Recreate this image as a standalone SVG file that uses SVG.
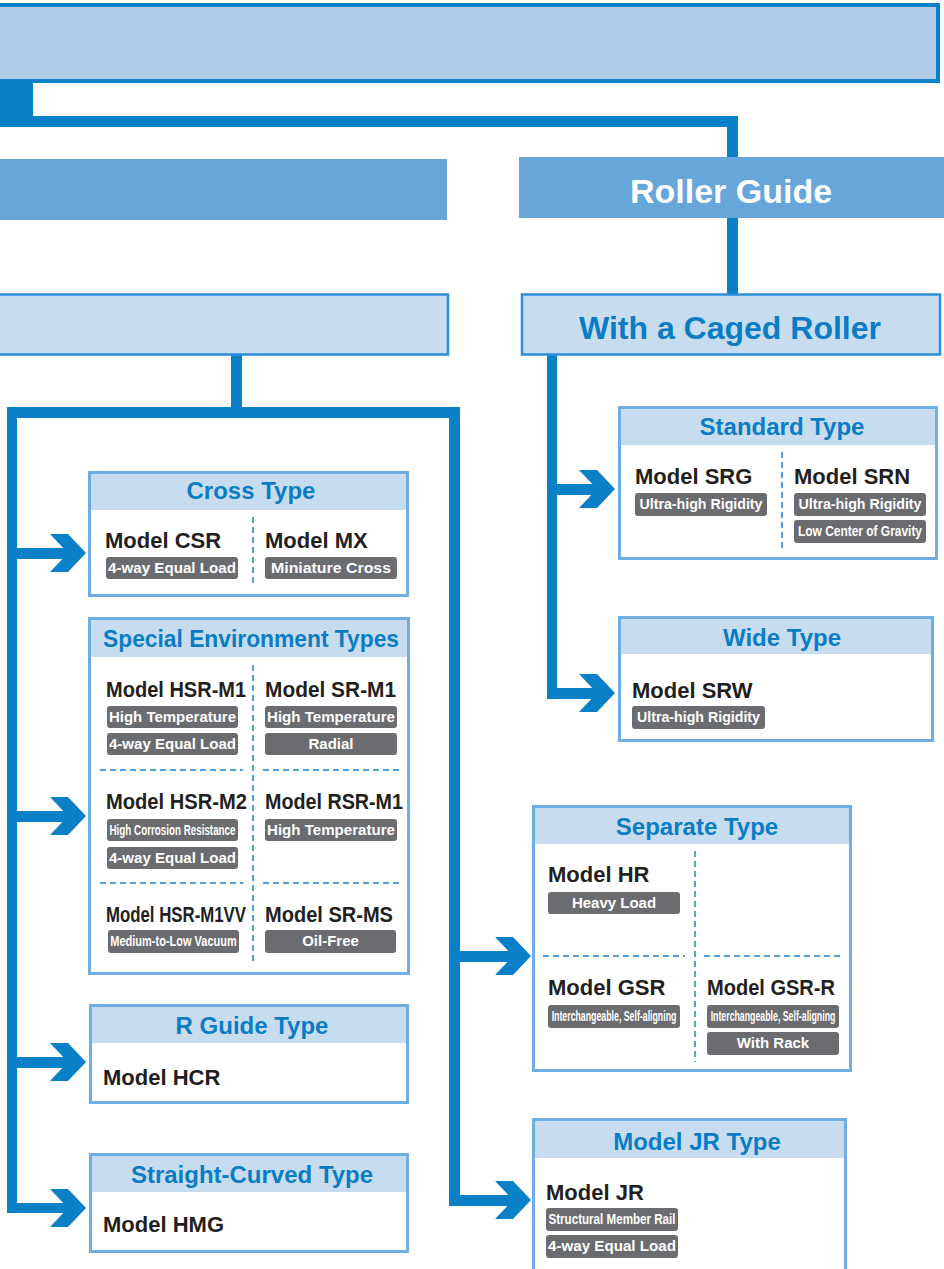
<svg xmlns="http://www.w3.org/2000/svg" xmlns:xlink="http://www.w3.org/1999/xlink" width="944" height="1269" viewBox="0 0 944 1269">
<style>
text{font-family:"Liberation Sans",Arial,Helvetica,sans-serif;font-weight:bold}
.c{fill:#0a80c8}
.top{fill:#b0cce9;stroke:#0a80c8;stroke-width:4}
.l2{fill:#66a6da}
.l3{fill:#c8dcf0;stroke:#2a8fd6;stroke-width:2.5}
.card{fill:#fff;stroke:#6eaee2;stroke-width:3}
.hd{fill:#c8dcf0}
.title{font-size:24px;fill:#0a7cc4;text-anchor:middle}
.big{text-anchor:middle}
.model{font-size:22px;fill:#231f20}
.badge{fill:#6b6c6f}
.bt{font-size:15px;fill:#fff;text-anchor:middle}
.nt{font-size:14px;fill:#fff;text-anchor:middle}
.dash{stroke:#4fa0dc;stroke-width:2;stroke-dasharray:6 4;fill:none}
</style>
<defs>
<path id="chev" d="M-36,-19 L-18,-19 L0,0 L-18,19 L-36,19 L-18,0 Z"/>
</defs>

<g id="connectors">
<rect class="c" x="0" y="81" width="33" height="46"/>
<rect class="c" x="0" y="116" width="738" height="11"/>
<rect class="c" x="727" y="116" width="11" height="42"/>
<rect class="c" x="727" y="217" width="11" height="77"/>
<rect class="c" x="231" y="354" width="11" height="56"/>
<rect class="c" x="7" y="407" width="453" height="11"/>
<rect class="c" x="7" y="407" width="10" height="806"/>
<rect class="c" x="449" y="407" width="11" height="799"/>
<rect class="c" x="547" y="354" width="10" height="345"/>
<rect class="c" x="17" y="548" width="52" height="11"/>
<rect class="c" x="17" y="811" width="52" height="11"/>
<rect class="c" x="17" y="1057" width="52" height="11"/>
<rect class="c" x="7" y="1203" width="62" height="10"/>
<rect class="c" x="460" y="951" width="54" height="11"/>
<rect class="c" x="449" y="1195" width="65" height="11"/>
<rect class="c" x="557" y="484" width="41" height="11"/>
<rect class="c" x="547" y="688" width="51" height="11"/>
<use xlink:href="#chev" class="c" transform="translate(86,553)"/>
<use xlink:href="#chev" class="c" transform="translate(86,816)"/>
<use xlink:href="#chev" class="c" transform="translate(86,1062)"/>
<use xlink:href="#chev" class="c" transform="translate(86,1208)"/>
<use xlink:href="#chev" class="c" transform="translate(531,956)"/>
<use xlink:href="#chev" class="c" transform="translate(531,1200)"/>
<use xlink:href="#chev" class="c" transform="translate(615,489)"/>
<use xlink:href="#chev" class="c" transform="translate(615,693)"/>
</g>

<g id="top-box"><rect class="top" x="-10" y="5" width="948" height="76"/></g>
<g id="left-level2"><rect class="l2" x="-5" y="159" width="452" height="61"/></g>
<g id="roller-guide"><rect class="l2" x="519" y="157" width="425" height="61"/>
<text class="big" x="731" y="203" style="font-size:34px;fill:#fff">Roller Guide</text></g>
<g id="left-level3"><rect class="l3" x="-5" y="294.5" width="453" height="60"/></g>
<g id="caged-roller"><rect class="l3" x="522" y="294.5" width="418" height="60"/>
<text class="big" x="730" y="339" style="font-size:32px;fill:#0a7cc4">With a Caged Roller</text></g>

<g id="cross-type">
<rect class="card" x="89.5" y="472.5" width="318" height="123"/>
<rect class="hd" x="91" y="474" width="315" height="36"/>
<text class="title" x="251" y="499">Cross Type</text>
<line class="dash" x1="253" y1="517" x2="253" y2="586"/>
<text class="model" x="105" y="548">Model CSR</text>
<rect class="badge" x="106" y="557" width="132" height="22" rx="3"/>
<text class="bt" x="172" y="573" textLength="128" lengthAdjust="spacingAndGlyphs">4-way Equal Load</text>
<text class="model" x="265" y="548">Model MX</text>
<rect class="badge" x="265" y="557" width="132" height="22" rx="3"/>
<text class="bt" x="331" y="573" textLength="120" lengthAdjust="spacingAndGlyphs">Miniature Cross</text>
</g>

<g id="special-env">
<rect class="card" x="89.5" y="618.5" width="319" height="355"/>
<rect class="hd" x="91" y="620" width="316" height="37"/>
<text class="title" x="251" y="647" textLength="296" lengthAdjust="spacingAndGlyphs">Special Environment Types</text>
<line class="dash" x1="253" y1="665" x2="253" y2="965"/>
<line class="dash" x1="100" y1="770" x2="243" y2="770"/>
<line class="dash" x1="263" y1="770" x2="402" y2="770"/>
<line class="dash" x1="100" y1="883" x2="243" y2="883"/>
<line class="dash" x1="263" y1="883" x2="402" y2="883"/>
<text class="model" transform="translate(106,697) scale(0.91,1)" textLength="154" lengthAdjust="spacingAndGlyphs">Model HSR-M1</text>
<rect class="badge" x="107" y="706" width="131" height="22" rx="3"/>
<text class="bt" x="172.5" y="722" textLength="127" lengthAdjust="spacingAndGlyphs">High Temperature</text>
<rect class="badge" x="107" y="733" width="131" height="22" rx="3"/>
<text class="bt" x="172.5" y="749" textLength="127" lengthAdjust="spacingAndGlyphs">4-way Equal Load</text>
<text class="model" transform="translate(265,697) scale(0.95,1)" textLength="138" lengthAdjust="spacingAndGlyphs">Model SR-M1</text>
<rect class="badge" x="265" y="706" width="132" height="22" rx="3"/>
<text class="bt" x="331" y="722" textLength="128" lengthAdjust="spacingAndGlyphs">High Temperature</text>
<rect class="badge" x="265" y="733" width="132" height="22" rx="3"/>
<text class="bt" x="331" y="749">Radial</text>
<text class="model" transform="translate(106,809) scale(0.915,1)" textLength="154" lengthAdjust="spacingAndGlyphs">Model HSR-M2</text>
<rect class="badge" x="107" y="819" width="131" height="22" rx="3"/>
<text class="nt" transform="translate(172.5,835) scale(0.7,1)" textLength="180" lengthAdjust="spacingAndGlyphs">High Corrosion Resistance</text>
<rect class="badge" x="107" y="847" width="131" height="22" rx="3"/>
<text class="bt" x="172.5" y="863" textLength="127" lengthAdjust="spacingAndGlyphs">4-way Equal Load</text>
<text class="model" transform="translate(265,809) scale(0.896,1)" textLength="154" lengthAdjust="spacingAndGlyphs">Model RSR-M1</text>
<rect class="badge" x="265" y="819" width="132" height="22" rx="3"/>
<text class="bt" x="331" y="835" textLength="128" lengthAdjust="spacingAndGlyphs">High Temperature</text>
<text class="model" transform="translate(106,922) scale(0.765,1)" textLength="183" lengthAdjust="spacingAndGlyphs">Model HSR-M1VV</text>
<rect class="badge" x="108" y="930" width="131" height="23" rx="3"/>
<text class="nt" transform="translate(173.5,946) scale(0.78,1)" textLength="162" lengthAdjust="spacingAndGlyphs">Medium-to-Low Vacuum</text>
<text class="model" transform="translate(265,922) scale(0.91,1)" textLength="140.6" lengthAdjust="spacingAndGlyphs">Model SR-MS</text>
<rect class="badge" x="265" y="930" width="131" height="23" rx="3"/>
<text class="bt" x="330.5" y="946">Oil-Free</text>
</g>

<g id="r-guide">
<rect class="card" x="90.5" y="1005.5" width="317" height="97"/>
<rect class="hd" x="92" y="1007" width="314" height="36"/>
<text class="title" x="252" y="1034">R Guide Type</text>
<text class="model" x="103" y="1085">Model HCR</text>
</g>

<g id="straight-curved">
<rect class="card" x="90.5" y="1154.5" width="317" height="97"/>
<rect class="hd" x="92" y="1156" width="314" height="36"/>
<text class="title" x="252" y="1183">Straight-Curved Type</text>
<text class="model" x="103" y="1232">Model HMG</text>
</g>

<g id="standard-type">
<rect class="card" x="619.5" y="407.5" width="317" height="151"/>
<rect class="hd" x="621" y="409" width="314" height="36"/>
<text class="title" x="782" y="435">Standard Type</text>
<line class="dash" x1="782" y1="452" x2="782" y2="550"/>
<text class="model" x="635" y="484">Model SRG</text>
<rect class="badge" x="635" y="493" width="132" height="23" rx="3"/>
<text class="bt" x="701" y="509" textLength="123" lengthAdjust="spacingAndGlyphs">Ultra-high Rigidity</text>
<text class="model" x="794" y="484">Model SRN</text>
<rect class="badge" x="794" y="493" width="132" height="23" rx="3"/>
<text class="bt" x="860" y="509" textLength="123" lengthAdjust="spacingAndGlyphs">Ultra-high Rigidity</text>
<rect class="badge" x="794" y="520" width="132" height="23" rx="3"/>
<text class="nt" transform="translate(860,536) scale(0.855,1)" textLength="145" lengthAdjust="spacingAndGlyphs">Low Center of Gravity</text>
</g>

<g id="wide-type">
<rect class="card" x="619.5" y="617.5" width="313" height="123"/>
<rect class="hd" x="621" y="619" width="310" height="35"/>
<text class="title" x="782" y="646">Wide Type</text>
<text class="model" x="632" y="698">Model SRW</text>
<rect class="badge" x="632" y="706" width="133" height="23" rx="3"/>
<text class="bt" x="698.5" y="722" textLength="123" lengthAdjust="spacingAndGlyphs">Ultra-high Rigidity</text>
</g>

<g id="separate-type">
<rect class="card" x="533.5" y="806.5" width="317" height="264"/>
<rect class="hd" x="535" y="808" width="314" height="36"/>
<text class="title" x="697" y="835">Separate Type</text>
<line class="dash" x1="695" y1="851" x2="695" y2="1062"/>
<line class="dash" x1="543" y1="956" x2="685" y2="956"/>
<line class="dash" x1="704" y1="956" x2="843" y2="956"/>
<text class="model" x="548" y="882">Model HR</text>
<rect class="badge" x="548" y="892" width="132" height="22" rx="3"/>
<text class="bt" x="614" y="908">Heavy Load</text>
<text class="model" x="548" y="995">Model GSR</text>
<rect class="badge" x="548" y="1005" width="132" height="23" rx="3"/>
<text class="nt" transform="translate(614,1021) scale(0.63,1)" textLength="198" lengthAdjust="spacingAndGlyphs">Interchangeable, Self-aligning</text>
<text class="model" transform="translate(707,995) scale(0.91,1)" textLength="140.6" lengthAdjust="spacingAndGlyphs">Model GSR-R</text>
<rect class="badge" x="707" y="1005" width="132" height="23" rx="3"/>
<text class="nt" transform="translate(773,1021) scale(0.63,1)" textLength="198" lengthAdjust="spacingAndGlyphs">Interchangeable, Self-aligning</text>
<rect class="badge" x="707" y="1032" width="132" height="23" rx="3"/>
<text class="bt" x="773" y="1048">With Rack</text>
</g>

<g id="jr-type">
<rect class="card" x="533.5" y="1119.5" width="312" height="200"/>
<rect class="hd" x="535" y="1121" width="309" height="37"/>
<text class="title" x="697" y="1150">Model JR Type</text>
<text class="model" x="546" y="1200">Model JR</text>
<rect class="badge" x="546" y="1208" width="132" height="23" rx="3"/>
<text class="nt" transform="translate(612,1224) scale(0.83,1)" textLength="153" lengthAdjust="spacingAndGlyphs">Structural Member Rail</text>
<rect class="badge" x="546" y="1235" width="132" height="23" rx="3"/>
<text class="bt" x="612" y="1251" textLength="128" lengthAdjust="spacingAndGlyphs">4-way Equal Load</text>
</g>
</svg>
